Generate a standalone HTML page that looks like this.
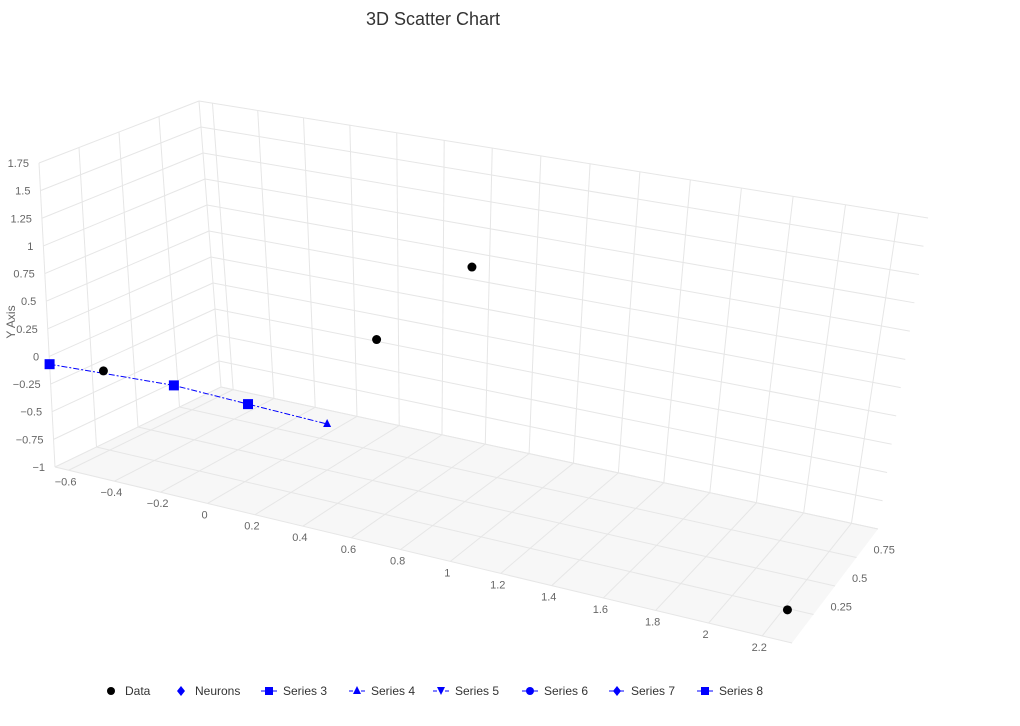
<!DOCTYPE html>
<html><head><meta charset="utf-8"><style>
html,body{margin:0;padding:0;background:#fff;}
svg{display:block;font-family:"Liberation Sans",sans-serif;}
</style></head><body>
<svg id="chart" width="1020" height="726" viewBox="0 0 1020 726">
<text x="433" y="25" text-anchor="middle" font-size="18" fill="#333">3D Scatter Chart</text>
<g id="frame"></g>
<g id="marks"></g>
<text transform="translate(15,322) rotate(-90)" text-anchor="middle" font-size="12" fill="#666">Y Axis</text>
<g id="legend" font-size="12" fill="#333"></g>
</svg>
<script>
const xTicks = [-0.6,-0.4,-0.2,0,0.2,0.4,0.6,0.8,1,1.2,1.4,1.6,1.8,2,2.2];
const yTicks = [-1,-0.75,-0.5,-0.25,0,0.25,0.5,0.75,1,1.25,1.5,1.75];
const zTicks = [0,0.25,0.5,0.75,1];
const zLabels = [0.25,0.5,0.75];
const dataX = [-0.43,0.41,0.79,2.22];
const dataY = [-0.03,0.26,1.05,-0.98];
const dataZ = [0,0.5,0.5,0.22];
const s8X = [-0.66,-0.135,0.17,0.49];
const s8Y = [-0.07,-0.03,-0.06,-0.09];
const s8Z = [0,0,0,0];
const s4X = [0.49];
const s4Y = [-0.09];
const s4Z = [0];

const XMIN=-0.66, XMAX=2.31, YMIN=-1, YMAX=1.75, ZMIN=0, ZMAX=1;
const C={fbl:[55,467],ftl:[39,163],fbr:[792,643],ftr:[840,283],bbl:[221,387],btl:[199,101],bbr:[878,529],btr:[928,218]};
function lerp(a,b,t){return [a[0]+(b[0]-a[0])*t,a[1]+(b[1]-a[1])*t];}
function proj(x,y,z){
  let u=(x-XMIN)/(XMAX-XMIN); u=u/(1.095-0.095*u);
  const v=(y-YMIN)/(YMAX-YMIN), w=(z-ZMIN)/(ZMAX-ZMIN);
  const fb=lerp(C.fbl,C.fbr,u), ft=lerp(C.ftl,C.ftr,u), bb=lerp(C.bbl,C.bbr,u), bt=lerp(C.btl,C.btr,u);
  const f=lerp(fb,ft,v), b=lerp(bb,bt,v);
  return lerp(f,b,w);
}
const NS='http://www.w3.org/2000/svg';
function mk(tag,attrs,parent){const e=document.createElementNS(NS,tag);for(const k in attrs)e.setAttribute(k,attrs[k]);parent.appendChild(e);return e;}
const frame=document.getElementById('frame'), marks=document.getElementById('marks');
function line(p,q,name,col){const e=mk('line',{x1:p[0],y1:p[1],x2:q[0],y2:q[1],stroke:col||'#e6e6e6','stroke-width':1},frame);

}
function poly(pts,fill,name){const e=mk('polygon',{points:pts.map(p=>p.join(',')).join(' '),fill:fill},frame);

}
poly([proj(XMIN,YMIN,0),proj(XMAX,YMIN,0),proj(XMAX,YMIN,1),proj(XMIN,YMIN,1)],'#f7f7f7','floor-panel');
xTicks.forEach(x=>{line(proj(x,YMIN,1),proj(x,YMAX,1),'back-wall-x-gridline');line(proj(x,YMIN,0),proj(x,YMIN,1),'floor-x-gridline');});
yTicks.forEach(y=>{line(proj(XMIN,y,1),proj(XMAX,y,1),'back-wall-y-gridline');line(proj(XMIN,y,0),proj(XMIN,y,1),'side-wall-y-gridline');});
zTicks.forEach(z=>{line(proj(XMIN,YMIN,z),proj(XMIN,YMAX,z),'side-wall-z-gridline');line(proj(XMIN,YMIN,z),proj(XMAX,YMIN,z),'floor-z-gridline');});
xTicks.forEach(x=>{const p=proj(x,YMIN,0);const t=mk('text',{x:p[0]-3,y:p[1]+15,'text-anchor':'middle','font-size':11,fill:'#666'},frame);t.textContent=String(x).replace('-','\u2212');

});
yTicks.forEach(y=>{const p=proj(XMIN,y,0);const t=mk('text',{x:p[0]-10,y:p[1]+4,'text-anchor':'end','font-size':11,fill:'#666'},frame);t.textContent=String(y).replace('-','\u2212');

});
zLabels.forEach(z=>{const p=proj(XMAX,YMIN,z);const t=mk('text',{x:p[0]+17,y:p[1]-4,'text-anchor':'start','font-size':11,fill:'#666'},frame);t.textContent=String(z);

});
const s8P=s8X.map((x,i)=>proj(x,s8Y[i],s8Z[i]));
const pl=mk('polyline',{points:s8P.map(p=>p.join(',')).join(' '),fill:'none',stroke:'#0000ff','stroke-width':1,'stroke-dasharray':'6,2,2,2'},marks);


s8P.forEach((p,i)=>{if(i===s8P.length-1)return;const r=mk('rect',{x:p[0]-5,y:p[1]-5,width:10,height:10,fill:'#0000ff'},marks);

});
s4X.forEach((x,i)=>{const p=proj(x,s4Y[i],s4Z[i]);const t=mk('polygon',{points:`${p[0]},${p[1]-5} ${p[0]+4},${p[1]+3} ${p[0]-4},${p[1]+3}`,fill:'#0000ff'},marks);

});
dataX.forEach((x,i)=>{const p=proj(x,dataY[i],dataZ[i]);const c=mk('circle',{cx:p[0],cy:p[1],r:4.5,fill:'#000'},marks);

});
const leg=document.getElementById('legend');
const items=[['Data',111,'circle','#000',null],['Neurons',181,'diamond','#0000ff',null],['Series 3',269,'square','#0000ff','none'],['Series 4',357,'tri','#0000ff','4,2'],['Series 5',441,'tridown','#0000ff','4,2'],['Series 6',530,'circle','#0000ff','none'],['Series 7',617,'diamond','#0000ff','5,2,1,2'],['Series 8',705,'square','#0000ff','none']];
items.forEach(it=>{
  const g=mk('g',{},leg);
  
  
  const [lab,cx,sh,col,dash]=it, cy=691;
  if(dash!==null){const l=mk('line',{x1:cx-8,y1:cy,x2:cx+8,y2:cy,stroke:col,'stroke-width':1},g);if(dash!=='none')l.setAttribute('stroke-dasharray',dash);}
  if(sh==='circle')mk('circle',{cx:cx,cy:cy,r:4,fill:col},g);
  if(sh==='square')mk('rect',{x:cx-4,y:cy-4,width:8,height:8,fill:col},g);
  if(sh==='diamond')mk('polygon',{points:`${cx},${cy-5} ${cx+4},${cy} ${cx},${cy+5} ${cx-4},${cy}`,fill:col},g);
  if(sh==='tri')mk('polygon',{points:`${cx},${cy-5} ${cx+4},${cy+3} ${cx-4},${cy+3}`,fill:col},g);
  if(sh==='tridown')mk('polygon',{points:`${cx},${cy+4} ${cx+4},${cy-4} ${cx-4},${cy-4}`,fill:col},g);
  const t=mk('text',{x:cx+14,y:cy+4,fill:'#333','font-size':12},g);t.textContent=lab;
});
</script>
</body></html>
